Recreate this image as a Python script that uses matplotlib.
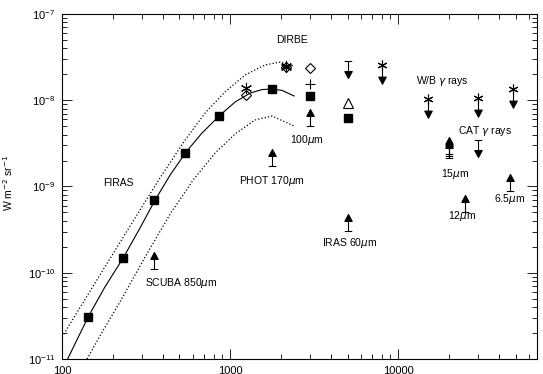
import numpy as np
import matplotlib.pyplot as plt
from matplotlib.path import Path
from matplotlib.ticker import FixedLocator, FixedFormatter, LogLocator, NullFormatter

plt.rcParams['font.family'] = ['Liberation Sans', 'DejaVu Sans']

# ---------------- data (frequency in GHz, nu I_nu in W m^-2 sr^-1) ----------------
# FIRAS fit (solid) and its band (dotted)
nu_fit = [108, 143, 180, 231, 291, 358, 440, 547, 681, 860, 1072, 1316, 1549, 1778, 2040, 2404]
i_fit = [1.0e-11, 3.07e-11, 6.84e-11, 1.48e-10, 3.3e-10, 6.97e-10, 1.36e-9, 2.51e-9,
         4.17e-9, 6.56e-9, 9.55e-9, 1.21e-8, 1.33e-8, 1.35e-8, 1.3e-8, 1.12e-8]
nu_hi = [100, 168, 254, 383, 540, 710, 933, 1228, 1615, 1985, 2404]
i_hi = [1.8e-11, 9.4e-11, 3.48e-10, 1.26e-9, 3.46e-9, 7.11e-9, 1.25e-8, 1.96e-8,
        2.57e-8, 2.77e-8, 2.49e-8]
nu_lo = [141, 168, 221, 312, 440, 603, 814, 1072, 1409, 1778, 2404]
i_lo = [1.0e-11, 1.85e-11, 4.58e-11, 1.52e-10, 4.8e-10, 1.19e-9, 2.44e-9, 4.07e-9,
        5.9e-9, 6.56e-9, 5.02e-9]

# FIRAS points
firas_nu = [143, 231, 353, 542, 857, 1778]
firas_i = [3.07e-11, 1.49e-10, 6.97e-10, 2.47e-9, 6.57e-9, 1.34e-8]

# DIRBE points
star_nu = [1249, 2141, 2141]
star_i = [1.38e-8, 2.52e-8, 2.42e-8]
diam_nu = [1249, 2141, 3000]
diam_i = [1.15e-8, 2.45e-8, 2.34e-8]
plus_nu = [3000]
plus_i = [1.53e-8]
sq_nu = [3000, 5000]
sq_i = [1.12e-8, 6.18e-9]
otri_nu = [5000]
otri_i = [9.2e-9]

# lower limits (up arrows)
low_nu = [3000, 1764, 5000, 353, 20000, 20000, 20000, 25000, 46154]
low_i = [5.03e-9, 1.73e-9, 3.08e-10, 1.10e-10, 2.16e-9, 2.27e-9, 2.4e-9, 5.1e-10, 8.87e-10]
# upper limits (down arrows with bar)
up_nu = [5000, 30000]
up_i = [2.88e-8, 3.46e-9]
# W/B gamma-ray upper limits
wb_nu = [8000, 15000, 30000, 48500]
wb_i = [2.56e-8, 1.03e-8, 1.05e-8, 1.34e-8]

# labels
lab_txt = ['DIRBE', '100$\\mu$m', 'PHOT 170$\\mu$m', 'FIRAS', 'SCUBA 850$\\mu$m', 'IRAS 60$\\mu$m',
           'W/B $\\gamma$ rays', 'CAT $\\gamma$ rays', '15$\\mu$m', '12$\\mu$m', '6.5$\\mu$m']
lab_nu = [2329, 2857, 1778, 216, 511, 5105, 18280, 32960, 21830, 23930, 46240]
lab_i = [5.0e-8, 3.46e-9, 1.16e-9, 1.09e-9, 7.67e-11, 2.23e-10, 1.69e-8, 4.43e-9, 1.4e-9,
         4.55e-10, 7.11e-10]

# ---------------- arrow markers ----------------
M, L = Path.MOVETO, Path.LINETO
w = 0.22
up_arrow = Path([(-w, 0), (w, 0), (0, 0), (0, 0.59), (-w, 0.59), (w, 0.59), (0, 1), (-w, 0.59)],
                [M, L, M, L, M, L, L, L])
down_arrow = Path([(-w, 0), (w, 0), (0, 0), (0, -0.59), (-w, -0.59), (w, -0.59), (0, -1), (-w, -0.59)],
                  [M, L, M, L, M, L, L, L])
wb_arrow = Path([(0, 0), (0, -0.62), (-0.2, -0.62), (0.2, -0.62), (0, -1), (-0.2, -0.62)],
                [M, L, M, L, L, L])

fig = plt.figure(figsize=(5.43, 3.74), dpi=100)
ax = fig.add_axes([0.1142, 0.0401, 0.8748, 0.9225])

ax.plot(nu_fit, i_fit, 'k-', lw=0.8)
ax.plot(nu_hi, i_hi, 'k:', lw=0.9)
ax.plot(nu_lo, i_lo, 'k:', lw=0.9)

ax.plot(firas_nu, firas_i, 's', color='k', ms=6, ls='none')
ax.plot(sq_nu, sq_i, 's', color='k', ms=6, ls='none')
ax.plot(star_nu, star_i, marker=(6, 2, 0), color='k', ms=8, mew=0.8, ls='none')
ax.plot(diam_nu, diam_i, 'D', mfc='none', mec='k', ms=5.5, mew=0.8, ls='none')
ax.plot(plus_nu, plus_i, '+', color='k', ms=7, mew=0.8, ls='none')
ax.plot(otri_nu, otri_i, '^', mfc='none', mec='k', ms=7, mew=0.8, ls='none')

ax.plot(low_nu, low_i, marker=up_arrow, color='k', ms=24.5, mew=0.8, ls='none')
ax.plot(up_nu, up_i, marker=down_arrow, color='k', ms=24.5, mew=0.8, ls='none')
ax.plot(wb_nu, wb_i, marker=wb_arrow, color='k', ms=27, mew=0.8, ls='none')
ax.plot(wb_nu, wb_i, marker=(6, 2, 0), color='k', ms=7, mew=0.8, ls='none')

for t, x, y in zip(lab_txt, lab_nu, lab_i):
    ax.text(x, y, t, fontsize=7.5, ha='center', va='center')

ax.set_xscale('log')
ax.set_yscale('log')
ax.set_xlim(100, 67000)
ax.set_ylim(1e-11, 1e-7)

ax.xaxis.set_major_locator(FixedLocator([100, 1000, 10000]))
ax.xaxis.set_major_formatter(FixedFormatter(['100', '1000', '10000']))
ax.xaxis.set_minor_locator(LogLocator(base=10, subs=np.arange(2, 10)))
ax.xaxis.set_minor_formatter(NullFormatter())
ax.yaxis.set_minor_locator(LogLocator(base=10, subs=np.arange(2, 10)))
ax.yaxis.set_minor_formatter(NullFormatter())

ax.tick_params(which='both', direction='in', top=True, right=True, width=0.6, labelsize=8)
ax.tick_params(which='major', length=7, pad=5)
ax.tick_params(which='minor', length=3.5)
for s in ax.spines.values():
    s.set_linewidth(0.8)

fig.text(0.027, 0.51, 'W m$^{-2}$ sr$^{-1}$', rotation=90, ha='right', va='center', fontsize=7.5)

plt.savefig('out.png', dpi=100)
